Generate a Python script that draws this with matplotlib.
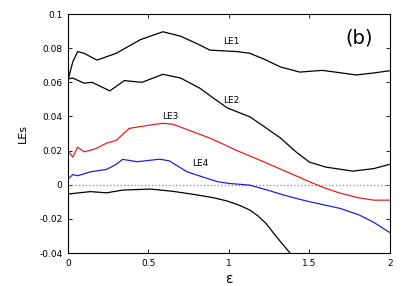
import numpy as np
import matplotlib
matplotlib.use("Agg")
import matplotlib.pyplot as plt

# Lyapunov exponents vs coupling eps
eps1 = [0, 0.03, 0.06, 0.1, 0.18, 0.3, 0.45, 0.59, 0.7, 0.82, 0.88, 0.95, 1.05, 1.13, 1.22, 1.32, 1.44, 1.58, 1.7, 1.79, 1.9, 2.0]
le1 = [0.0613, 0.072, 0.078, 0.077, 0.073, 0.077, 0.085, 0.0896, 0.087, 0.0818, 0.0789, 0.0785, 0.078, 0.077, 0.0735, 0.069, 0.066, 0.067, 0.0655, 0.0643, 0.0655, 0.0668]

eps2 = [0, 0.03, 0.1, 0.15, 0.26, 0.35, 0.46, 0.59, 0.7, 0.82, 0.9, 0.99, 1.13, 1.22, 1.32, 1.42, 1.5, 1.6, 1.77, 1.9, 2.0]
le2 = [0.062, 0.0625, 0.0595, 0.06, 0.055, 0.061, 0.060, 0.0647, 0.0625, 0.0565, 0.051, 0.045, 0.0398, 0.034, 0.0274, 0.019, 0.0133, 0.0104, 0.008, 0.0095, 0.012]

eps3 = [0, 0.03, 0.06, 0.1, 0.17, 0.24, 0.3, 0.38, 0.51, 0.59, 0.65, 0.75, 0.88, 0.96, 1.05, 1.19, 1.35, 1.5, 1.6, 1.69, 1.8, 1.9, 2.0]
le3 = [0.0199, 0.0162, 0.022, 0.0193, 0.021, 0.0244, 0.026, 0.033, 0.035, 0.036, 0.0355, 0.032, 0.0274, 0.024, 0.020, 0.0145, 0.008, 0.0018, -0.002, -0.0049, -0.0075, -0.009, -0.009]

eps4 = [0, 0.03, 0.06, 0.14, 0.24, 0.3, 0.34, 0.43, 0.57, 0.63, 0.74, 0.84, 0.93, 1.0, 1.13, 1.24, 1.34, 1.44, 1.5, 1.69, 1.81, 1.9, 2.0]
le4 = [0.0033, 0.006, 0.0053, 0.0076, 0.009, 0.012, 0.0149, 0.0135, 0.015, 0.014, 0.0076, 0.0045, 0.0018, 0.0008, -0.0002, -0.0031, -0.006, -0.0085, -0.0099, -0.0138, -0.0177, -0.022, -0.028]

eps5 = [0, 0.14, 0.24, 0.34, 0.51, 0.65, 0.78, 0.9, 0.99, 1.07, 1.13, 1.18, 1.23, 1.3, 1.38]
le5 = [-0.0054, -0.004, -0.0047, -0.0031, -0.0025, -0.0038, -0.0056, -0.0075, -0.0095, -0.0122, -0.0148, -0.0182, -0.0226, -0.031, -0.040]

plt.rcParams['font.family'] = 'DejaVu Sans'
fig = plt.figure(figsize=(4.07, 2.86), dpi=100)
ax = fig.add_axes([0.167, 0.115, 0.791, 0.836])

ax.axhline(0, color='#999999', ls=(0, (1, 1.5)), lw=1)
ax.plot(eps1, le1, color='black', lw=0.9)
ax.plot(eps2, le2, color='black', lw=0.9)
ax.plot(eps3, le3, color='#e8201c', lw=0.9)
ax.plot(eps4, le4, color='#2020dd', lw=0.9)
ax.plot(eps5, le5, color='black', lw=0.9)

ax.set_xlim(0, 2)
ax.set_ylim(-0.04, 0.1)
ax.set_xticks([0, 0.5, 1, 1.5, 2])
ax.set_xticklabels(['0', '0.5', '1', '1.5', '2'])
ax.set_yticks([-0.04, -0.02, 0, 0.02, 0.04, 0.06, 0.08, 0.1])
ax.set_yticklabels(['-0.04', '-0.02', '0', '0.02', '0.04', '0.06', '0.08', '0.1'])
ax.tick_params(direction='in', top=True, right=True, labelsize=6.5, length=3, width=0.6, pad=4)
for s in ax.spines.values():
    s.set_linewidth(0.8)

ax.text(1.017, 0.0838, 'LE1', fontsize=6.5, ha='center', va='center')
ax.text(1.017, 0.0496, 'LE2', fontsize=6.5, ha='center', va='center')
ax.text(0.638, 0.0402, 'LE3', fontsize=6.5, ha='center', va='center')
ax.text(0.82, 0.0125, 'LE4', fontsize=6.5, ha='center', va='center')
ax.text(0.905, 0.9, '(b)', transform=ax.transAxes, fontsize=14, ha='center', va='center')

ax.set_xlabel('ε', fontsize=10, labelpad=3)
ax.set_ylabel('LEs', fontsize=8, labelpad=8)

fig.savefig('out.png', dpi=100)
